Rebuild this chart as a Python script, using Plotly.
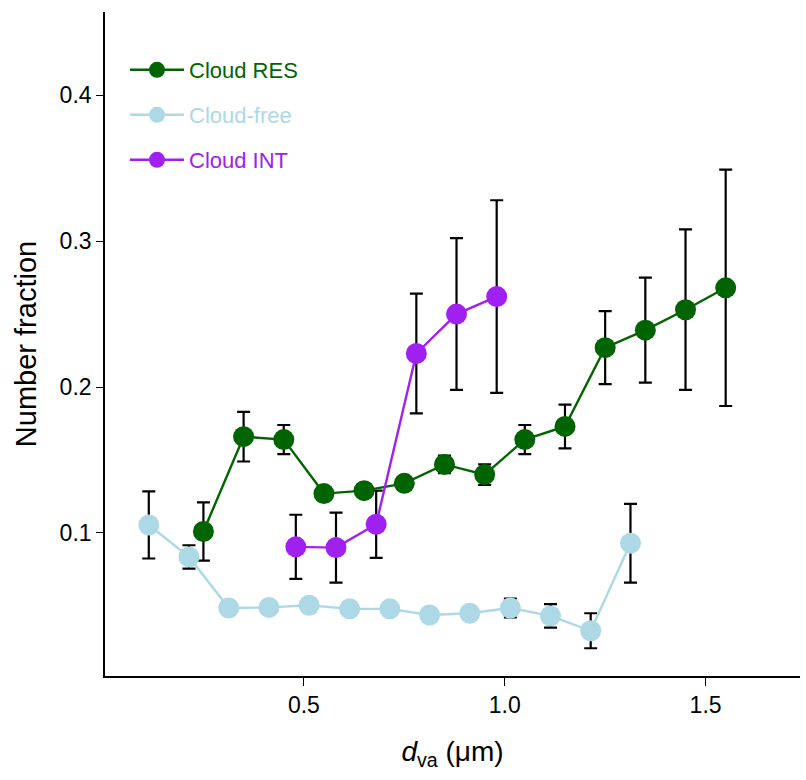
import plotly.graph_objects as go

# ---- data ----
res_x = [0.25, 0.35, 0.45, 0.55, 0.65, 0.75, 0.85, 0.95, 1.05, 1.15, 1.25, 1.35, 1.45, 1.55]
res_y = [0.101, 0.166, 0.164, 0.127, 0.129, 0.134, 0.147, 0.140, 0.164, 0.173, 0.227, 0.239, 0.253, 0.268]
res_err = [0.020, 0.017, 0.010, 0.004, 0.004, 0.004, 0.006, 0.007, 0.010, 0.015, 0.025, 0.036, 0.055, 0.081]

free_x = [0.114, 0.214, 0.313, 0.413, 0.513, 0.614, 0.714, 0.813, 0.913, 1.014, 1.114, 1.214, 1.313]
free_y = [0.1055, 0.0836, 0.0486, 0.049, 0.0505, 0.048, 0.048, 0.0438, 0.045, 0.0486, 0.0432, 0.033, 0.093]
free_err = [0.023, 0.008, 0.002, 0.002, 0.002, 0.002, 0.002, 0.002, 0.002, 0.0065, 0.008, 0.012, 0.027]

int_x = [0.48, 0.58, 0.68, 0.78, 0.88, 0.98]
int_y = [0.0905, 0.0900, 0.106, 0.223, 0.250, 0.262]
int_err = [0.022, 0.024, 0.023, 0.041, 0.052, 0.066]

x_ticks = [0.5, 1.0, 1.5]
x_tick_labels = ["0.5", "1.0", "1.5"]
y_ticks = [0.1, 0.2, 0.3, 0.4]
y_tick_labels = ["0.1", "0.2", "0.3", "0.4"]

GREEN = "#006400"
LBLUE = "#ADD8E6"
PURPLE = "#A020F0"
FONT = "Liberation Sans, Arial, sans-serif"

fig = go.Figure()

# error bars first (behind markers)
for xs, ys, es in [(free_x, free_y, free_err), (res_x, res_y, res_err), (int_x, int_y, int_err)]:
    fig.add_trace(go.Scatter(
        x=xs, y=ys, mode="markers",
        marker=dict(size=1, color="rgba(0,0,0,0)"),
        error_y=dict(type="data", array=es, color="black", thickness=2.2, width=6.5),
        showlegend=False, hoverinfo="skip"))

series = [
    ("Cloud RES", res_x, res_y, GREEN, "legend"),
    ("Cloud-free", free_x, free_y, LBLUE, "legend2"),
    ("Cloud INT", int_x, int_y, PURPLE, "legend3"),
]
for name, xs, ys, col, lg in series:
    fig.add_trace(go.Scatter(
        x=xs, y=ys, mode="lines+markers", name=name,
        line=dict(color=col, width=2.4),
        marker=dict(size=21, color=col),
        legend=lg))

L, R, T, B = 105, 6, 12, 104
W, H = 806, 780
pw, ph = W - L - R, H - T - B

def lx(px):
    return (px - L) / pw

def ly(py):
    return (H - B - py) / ph

legend_common = dict(xanchor="left", yanchor="middle", bgcolor="rgba(255,255,255,0)",
                     borderwidth=0, itemwidth=54)
LEG_X = 125
fig.update_layout(
    width=W, height=H,
    margin=dict(l=L, r=R, t=T, b=B),
    plot_bgcolor="white", paper_bgcolor="white",
    font=dict(family=FONT, color="black"),
    legend=dict(x=lx(LEG_X), y=ly(70), font=dict(size=22, color=GREEN, family=FONT), **legend_common),
    legend2=dict(x=lx(LEG_X), y=ly(115), font=dict(size=22, color=LBLUE, family=FONT), **legend_common),
    legend3=dict(x=lx(LEG_X), y=ly(160), font=dict(size=22, color=PURPLE, family=FONT), **legend_common),
    xaxis=dict(
        range=[0.005, 1.735], showgrid=False, zeroline=False,
        showline=True, linecolor="black", linewidth=1.6,
        ticks="outside", ticklen=8, tickwidth=1.4, tickcolor="black",
        tickvals=x_ticks, ticktext=x_tick_labels,
        tickfont=dict(size=23, family=FONT),
        title=dict(text="<i>d</i><sub>va</sub> (μm)", font=dict(size=28, family=FONT), standoff=24),
    ),
    yaxis=dict(
        range=[0.002, 0.457], showgrid=False, zeroline=False,
        showline=True, linecolor="black", linewidth=1.6,
        ticks="outside", ticklen=7, tickwidth=1.4, tickcolor="black",
        tickvals=y_ticks, ticktext=y_tick_labels,
        tickfont=dict(size=23, family=FONT),
        title=dict(text="Number fraction", font=dict(size=29, family=FONT), standoff=14),
    ),
)

fig.write_html("out.html")
